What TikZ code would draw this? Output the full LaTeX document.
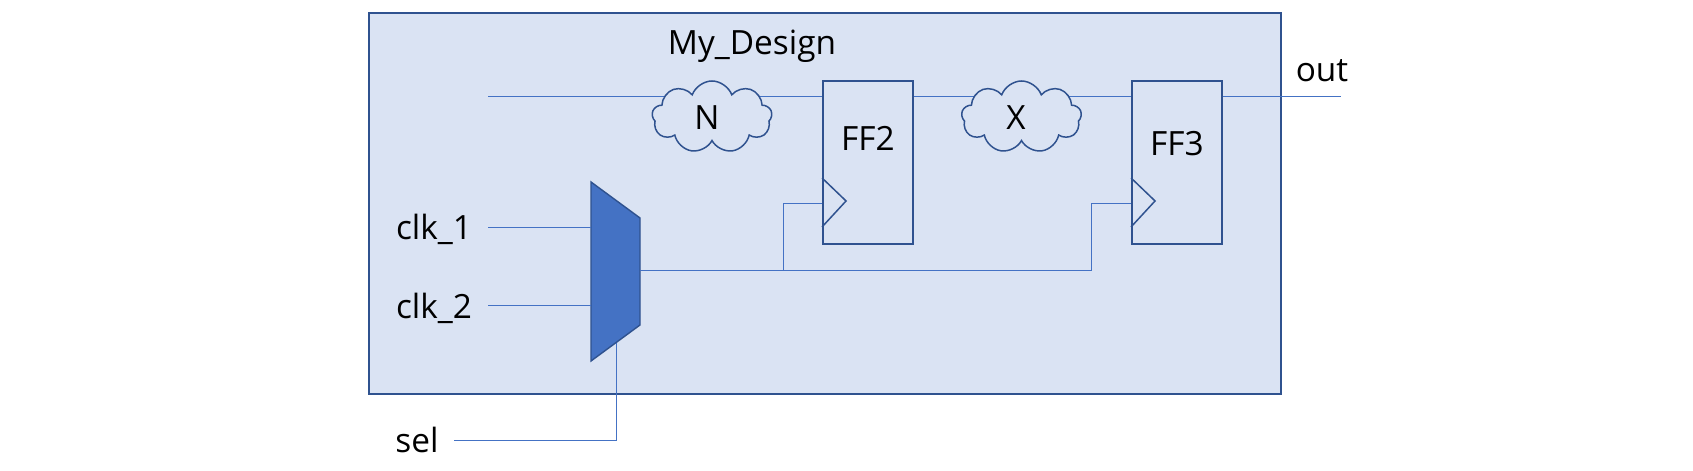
\documentclass[tikz,border=0pt]{standalone}
\usepackage{fontspec}
\setmainfont{Open Sans}
\usetikzlibrary{shapes, shapes.symbols, calc}
\definecolor{DesignBlue}{RGB}{218, 227, 243}
\definecolor{EdgeBlue}{RGB}{47, 82, 143}
\definecolor{WireBlue}{RGB}{68, 114, 196}
\tikzset{
    frame/.style={rectangle, draw=EdgeBlue, fill=DesignBlue, line width=1.1pt, minimum width=18.24cm, minimum height=7.62cm},
    ffbox/.style={rectangle, draw=EdgeBlue, line width=1.1pt, minimum width=1.8cm, minimum height=3.26cm},
    delay/.style={cloud, cloud puffs=9, cloud puff arc=140, aspect=1.7, draw=EdgeBlue, fill=DesignBlue, line width=0.85pt, inner sep=0pt, minimum width=2.4cm, minimum height=1.44cm},
    txt/.style={anchor=base, inner sep=0pt, font=\fontsize{19}{21}\selectfont},
    wire/.style={draw=WireBlue, line width=0.45pt},
    muxshape/.style={draw=EdgeBlue, fill=WireBlue, line width=0.8pt},
    ffline/.style={draw=EdgeBlue, line width=0.85pt}
}
\begin{document}
\begin{tikzpicture}
            \useasboundingbox (0, 0) rectangle (33.86, 9.42);
            \node[frame] (design) at (16.5, 5.35) {};
            \node[txt] (title) at (15.04, 8.32) {My\_Design};

            \node[ffbox] (ff2) at (17.36, 6.17) {};
            \node[ffbox] (ff3) at (23.54, 6.17) {};
            \node[txt] (ff2txt) at (17.36, 6.40) {FF2};
            \node[txt] (ff3txt) at (23.54, 6.30) {FF3};

            \node[txt] (clka) at (8.68, 4.62) {clk\_1};
            \node[txt] (clkb) at (8.68, 3.04) {clk\_2};
            \node[txt] (sel) at (8.34, 0.36) {sel};
            \node[txt] (out) at (26.44, 7.78) {out};

            \coordinate (din) at (9.76, 7.50);
            \coordinate (dout) at (26.82, 7.50);
            \coordinate (clkain) at (9.76, 4.88);
            \coordinate (clkbin) at (9.76, 3.32);
            \coordinate (selin) at (9.08, 0.62);
            \coordinate (muxa) at (11.82, 5.78);
            \coordinate (muxb) at (12.80, 5.06);
            \coordinate (muxc) at (12.80, 2.92);
            \coordinate (muxd) at (11.82, 2.20);
            \coordinate (muxout) at (12.80, 4.02);
            \coordinate (muxsel) at (12.32, 2.56);
            \coordinate (tapa) at (15.66, 4.02);
            \coordinate (tapb) at (21.82, 4.02);
            \coordinate (ff2ck) at ($(ff2.south west)+(0, 0.84)$);
            \coordinate (ff3ck) at ($(ff3.south west)+(0, 0.84)$);

            % data path, the clouds are filled and sit on top of it
            \draw[wire] (din) -- (din -| ff2.west);
            \draw[wire] (din -| ff2.east) -- (din -| ff3.west);
            \draw[wire] (din -| ff3.east) -- (dout);

            \node[delay] (n) at (14.24, 7.08) {};
            \node[delay] (x) at (20.43, 7.08) {};
            \node[txt] (ntxt) at (14.14, 6.82) {N};
            \node[txt] (xtxt) at (20.32, 6.82) {X};

            % mux
            \draw[muxshape] (muxa) -- (muxb) -- (muxc) -- (muxd) -- cycle;

            % clock triangles
            \foreach \ff in {ff2, ff3} {
                \draw[ffline] ($(\ff.south west)+(0, 1.34)$) -- ($(\ff.south west)+(0.48, 0.88)$) -- ($(\ff.south west)+(0, 0.36)$);
            }

            % clock path
            \draw[wire] (clkain) -- (clkain -| muxa);
            \draw[wire] (clkbin) -- (clkbin -| muxa);
            \draw[wire] (muxout) -- (tapb) |- (ff3ck);
            \draw[wire] (tapa) |- (ff2ck);
            \draw[wire] (selin) -| (muxsel);
            \end{tikzpicture}
\end{document}
